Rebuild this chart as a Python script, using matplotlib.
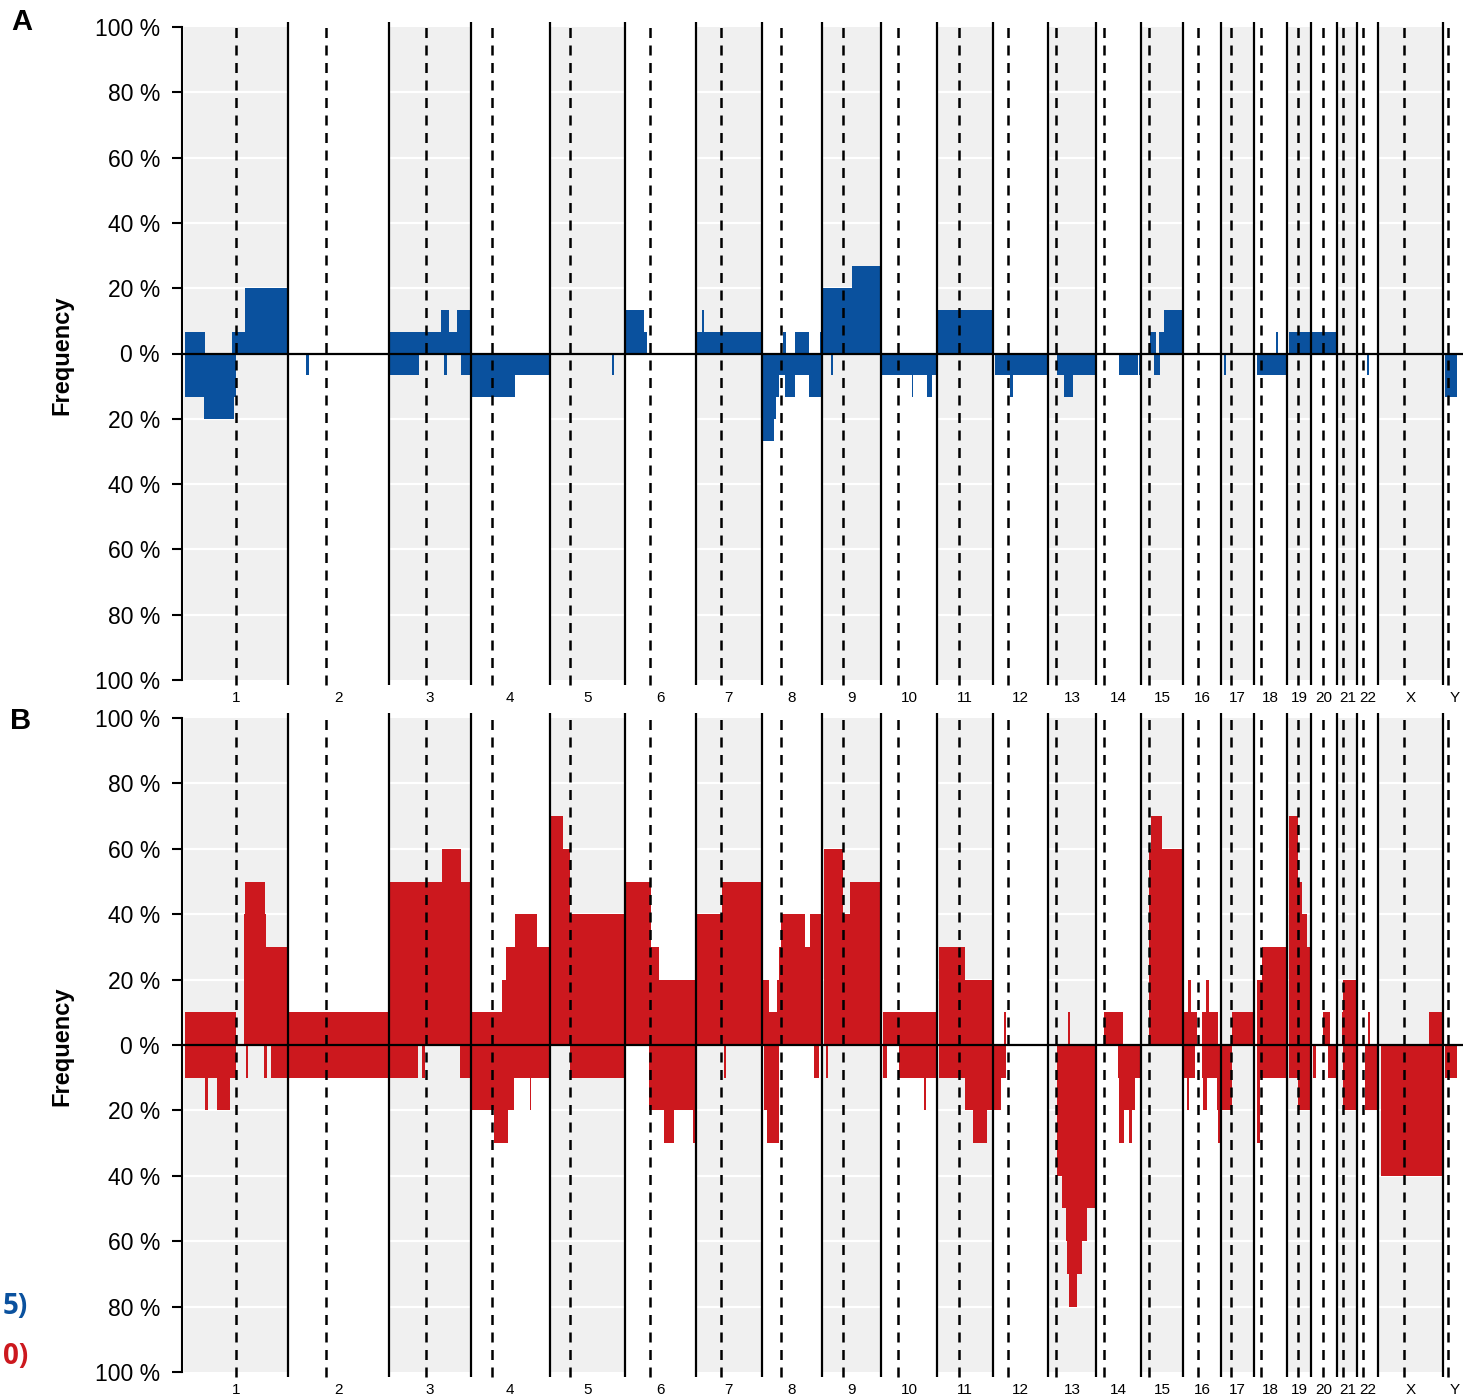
import numpy as np
import matplotlib
matplotlib.use("Agg")
import matplotlib.pyplot as plt

plt.rcParams['font.family'] = ['Liberation Sans', 'DejaVu Sans']

# chromosomes (hg19, Mb)
chrom_names = ['1', '2', '3', '4', '5', '6', '7', '8', '9', '10', '11', '12',
               '13', '14', '15', '16', '17', '18', '19', '20', '21', '22', 'X', 'Y']
chrom_len = [249.25, 243.20, 198.02, 191.15, 180.92, 171.12, 159.14, 146.36,
             141.21, 135.53, 135.01, 133.85, 115.17, 107.35, 102.53, 90.35,
             81.20, 78.08, 59.13, 63.03, 48.13, 51.30, 155.27, 59.37]
centromere = [125.0, 93.3, 91.0, 50.4, 48.4, 61.0, 59.9, 45.6, 49.0, 40.2,
              53.7, 35.8, 17.9, 17.6, 19.0, 36.6, 24.0, 17.2, 26.5, 27.5,
              13.2, 14.7, 60.6, 12.5]

# (chromosome, start Mb, end Mb, frequency %)
gain_a = [
    ('1', 0.5, 50.5, 6.7), ('1', 115, 145.5, 6.7), ('1', 145.5, 249.2, 20.0),
    ('3', 0, 127, 6.7), ('3', 127, 145, 13.3), ('3', 145, 165, 6.7), ('3', 165, 198, 13.3),
    ('6', 0.5, 45.4, 13.3), ('6', 45.4, 53.5, 6.7),
    ('7', 0.5, 159.1, 6.7), ('7', 15, 18.8, 13.3),
    ('8', 50.4, 58.6, 6.7), ('8', 79.4, 114.8, 6.7), ('8', 139.7, 146.4, 6.7),
    ('9', 0.5, 71.4, 20.0), ('9', 71.4, 141.2, 26.7),
    ('11', 0.5, 135, 13.3),
    ('15', 22.7, 37.1, 6.7), ('15', 44.4, 56.4, 6.7), ('15', 56.4, 102.5, 13.3),
    ('18', 52.6, 58, 6.7),
    ('19', 6.5, 59.1, 6.7),
    ('20', 2.2, 63, 6.7),
]
loss_a = [
    ('1', 0.5, 47.5, 13.3), ('1', 47.5, 119, 20.0), ('1', 119, 125.4, 13.3),
    ('2', 45, 50.7, 6.7),
    ('3', 0, 72.6, 6.7), ('3', 133, 141, 6.7), ('3', 175.6, 198, 6.7),
    ('4', 0.5, 108, 13.3), ('4', 108, 191.1, 6.7),
    ('5', 150, 153.8, 6.7),
    ('8', 2, 28.7, 26.7), ('8', 28.7, 34.5, 20.0), ('8', 34.5, 40.8, 13.3),
    ('8', 40.8, 55.7, 6.7), ('8', 55.7, 79.4, 13.3), ('8', 79.4, 113.1, 6.7),
    ('8', 113.1, 145.4, 13.3),
    ('9', 21.5, 25.6, 6.7),
    ('10', 0.5, 135.5, 6.7), ('10', 74.8, 78.6, 13.3), ('10', 111, 124.5, 13.3),
    ('12', 5.3, 133.8, 6.7), ('12', 39.8, 49.4, 13.3),
    ('13', 20, 115, 6.7), ('13', 37.9, 58.8, 13.3),
    ('14', 56, 102, 6.7), ('14', 103.5, 107, 6.7),
    ('15', 32.3, 46.8, 6.7),
    ('17', 8.9, 13, 6.7),
    ('18', 6, 78, 6.7),
    ('22', 23, 28.5, 6.7),
    ('Y', 5.3, 33.5, 13.3),
]
gain_b = [
    ('1', 0.5, 124.7, 10), ('1', 143, 145.7, 40), ('1', 145.7, 195.4, 50),
    ('1', 195.4, 197.1, 40), ('1', 197.1, 249.2, 30),
    ('2', 0, 243.2, 10),
    ('3', 0, 129, 50), ('3', 129, 175.6, 60), ('3', 175.6, 198, 50),
    ('4', 0, 75.7, 10), ('4', 75.7, 86, 20), ('4', 86, 107.8, 30),
    ('4', 107.8, 160.2, 40), ('4', 160.2, 191.1, 30),
    ('5', 3.6, 31.8, 70), ('5', 31.8, 49.4, 60), ('5', 49.4, 180.9, 40),
    ('6', 3.6, 63.2, 50), ('6', 63.2, 83.2, 30), ('6', 83.2, 171.1, 20),
    ('7', 0.5, 63.2, 40), ('7', 63.2, 159.1, 50),
    ('8', 0.5, 16.6, 20), ('8', 16.6, 36.9, 10), ('8', 36.9, 40.8, 20),
    ('8', 40.8, 47.3, 30), ('8', 47.3, 103.5, 40), ('8', 103.5, 115.5, 30),
    ('8', 115.5, 145.4, 40),
    ('9', 4.6, 49.6, 60), ('9', 49.6, 67.3, 40), ('9', 67.3, 97.3, 50),
    ('9', 97.3, 98.3, 40), ('9', 98.3, 141.2, 50),
    ('10', 4.8, 135.5, 10),
    ('11', 5.8, 67.8, 30), ('11', 67.8, 135, 20),
    ('12', 27.7, 31.8, 10),
    ('13', 48.2, 52.3, 10),
    ('14', 19.8, 64.2, 10), ('14', 105.5, 107.3, 10),
    ('15', 21, 24.4, 60), ('15', 24.4, 50.9, 70), ('15', 50.9, 102.5, 60),
    ('16', 2.2, 32.8, 10), ('16', 11.1, 18.3, 20), ('16', 46.3, 84.9, 10),
    ('16', 54.5, 62.5, 20),
    ('17', 26.8, 81.2, 10),
    ('18', 6, 18, 20), ('18', 18, 78, 30),
    ('19', 6.5, 28.2, 70), ('19', 28.2, 37.9, 50), ('19', 37.9, 48.5, 40),
    ('19', 48.5, 59.1, 30),
    ('20', 29.5, 45.6, 10),
    ('21', 10.9, 14.7, 10), ('21', 14.7, 48.1, 20),
    ('22', 25.3, 30.9, 10),
    ('X', 122.5, 155.3, 10),
]
loss_b = [
    ('1', 0.5, 124.7, 10), ('1', 50.6, 56.2, 20), ('1', 78.8, 109.3, 20),
    ('1', 147.9, 152.7, 10), ('1', 193, 199.5, 10), ('1', 209, 249.2, 10),
    ('2', 0, 243.2, 10),
    ('3', 0, 70.2, 10), ('3', 80.8, 88.8, 10), ('3', 171.5, 198, 10),
    ('4', 0, 55.5, 20), ('4', 55.5, 90.6, 30), ('4', 90.6, 104, 20),
    ('4', 104, 191.1, 10), ('4', 142.3, 146.4, 20),
    ('5', 49.4, 180.9, 10),
    ('6', 57.6, 93.8, 20), ('6', 93.8, 119.4, 30), ('6', 119.4, 164.6, 20),
    ('6', 164.6, 170, 30),
    ('7', 67, 72.8, 10),
    ('8', 6.3, 12.8, 20), ('8', 12.8, 40.8, 30), ('8', 126.9, 137.2, 10),
    ('9', 9.4, 14.2, 10),
    ('10', 4.8, 14.5, 10), ('10', 42.5, 135.5, 10), ('10', 103, 108.8, 20),
    ('11', 5.8, 67.8, 10), ('11', 67.8, 86.4, 20), ('11', 86.4, 121.5, 30),
    ('11', 121.5, 135, 20),
    ('12', 0.5, 19, 20), ('12', 19, 31.1, 10),
    ('13', 19.5, 33.8, 40), ('13', 33.8, 42, 50), ('13', 42, 44.4, 60),
    ('13', 44.4, 49.9, 70), ('13', 49.9, 68.4, 80), ('13', 68.4, 80.3, 70),
    ('13', 80.3, 94, 60), ('13', 94, 115.2, 50),
    ('14', 52.1, 107.3, 10), ('14', 55.2, 93.8, 20), ('14', 55.2, 67.3, 30),
    ('14', 80.3, 86, 30),
    ('16', 2.2, 28.7, 10), ('16', 8.7, 15, 20), ('16', 46.3, 90.3, 10),
    ('16', 48.7, 56.9, 20), ('16', 80.8, 90.3, 20), ('16', 84.9, 90.3, 30),
    ('17', 2.7, 26.8, 20),
    ('18', 6, 78, 10), ('18', 6, 14, 30),
    ('19', 6.5, 59.1, 10), ('19', 28.2, 59.1, 20),
    ('20', 5.3, 11.1, 10), ('20', 15.9, 17, 10), ('20', 41.5, 63, 10),
    ('21', 14.7, 48.1, 20),
    ('22', 18.8, 51.3, 20),
    ('X', 5.3, 155.3, 40),
    ('Y', 5.3, 35, 10),
]

W, H = 1463, 1399
BLUE = '#0a519e'
RED = '#cc181e'

starts = np.concatenate([[0], np.cumsum(chrom_len)[:-1]])
offset = dict(zip(chrom_names, starts))
centers = starts + np.array(chrom_len) / 2
mb_per_px = 2.412

fig = plt.figure(figsize=(W / 100, H / 100), dpi=100)


def add_panel(top, bottom):
    # axes box given in pixel rows of the figure
    return fig.add_axes([181.5 / W, 1 - bottom / H, (1462.5 - 181.5) / W, (bottom - top) / H])


def draw_panel(ax, gains, losses, color):
    for i, (s, L) in enumerate(zip(starts, chrom_len)):
        if i % 2 == 0:
            ax.fill_between([s, s + L], -100, 100, color='#f0f0f0', lw=0, zorder=0)
    for v in [20, 40, 60, 80]:
        ax.axhline(v, color='white', lw=1.6, zorder=1)
        ax.axhline(-v, color='white', lw=1.6, zorder=1)

    for rows, sign in ((gains, 1), (losses, -1)):
        x0 = [offset[c] + a for c, a, b, f in rows]
        w = [b - a for c, a, b, f in rows]
        h = [sign * f for c, a, b, f in rows]
        ax.bar(x0, h, width=w, align='edge', color=color, lw=0, zorder=2)

    ax.vlines(starts[1:], -101.5, 101.5, colors='black', lw=1.6, zorder=3)
    ax.vlines(starts + np.array(centromere), -101.5, 101.5, colors='black', lw=1.8,
              linestyles=(0, (4, 3)), zorder=3)
    ax.axhline(0, color='black', lw=1.6, zorder=4)

    ax.set_xlim(-3 * mb_per_px, 1278.5 * mb_per_px)
    ax.set_ylim(-102, 102)
    ax.set_facecolor('none')

    yt = list(range(-100, 101, 20))
    ax.set_yticks(yt, [f"{abs(v)} %" for v in yt])
    ax.tick_params(axis='y', length=7.5, width=1.5, pad=8, labelsize=16.5)
    ax.set_xticks(centers, chrom_names)
    ax.tick_params(axis='x', length=0, pad=3.5)
    for t in ax.get_xticklabels():
        t.set_fontsize(11)
        t.set_family(['Liberation Sans Narrow', 'Liberation Sans'])
    for s in ['top', 'right', 'bottom']:
        ax.spines[s].set_visible(False)
    ax.spines['left'].set_linewidth(1.5)
    ax.spines['left'].set_bounds(-100, 100)


ax_a = add_panel(20.5, 686.5)
draw_panel(ax_a, gain_a, loss_a, BLUE)
ax_b = add_panel(711.5, 1378.5)
draw_panel(ax_b, gain_b, loss_b, RED)

fig.text(21.5 / W, 1 - 22 / H, 'A', fontsize=21, fontweight='bold', ha='center', va='center')
fig.text(20.5 / W, 1 - 721 / H, 'B', fontsize=21, fontweight='bold', ha='center', va='center')
fig.text(62 / W, 1 - 355 / H, 'Frequency', rotation=90, fontsize=17, fontweight='bold',
         ha='center', va='center')
fig.text(62 / W, 1 - 1046 / H, 'Frequency', rotation=90, fontsize=17, fontweight='bold',
         ha='center', va='center')
fig.text(28 / W, 1 - 1306 / H, '5)', fontsize=20, fontweight='bold', color=BLUE,
         ha='right', va='center', family=['Open Sans', 'DejaVu Sans'])
fig.text(28 / W, 1 - 1356 / H, '0)', fontsize=20, fontweight='bold', color=RED,
         ha='right', va='center', family=['Open Sans', 'DejaVu Sans'])

fig.savefig('out.png', dpi=100)
